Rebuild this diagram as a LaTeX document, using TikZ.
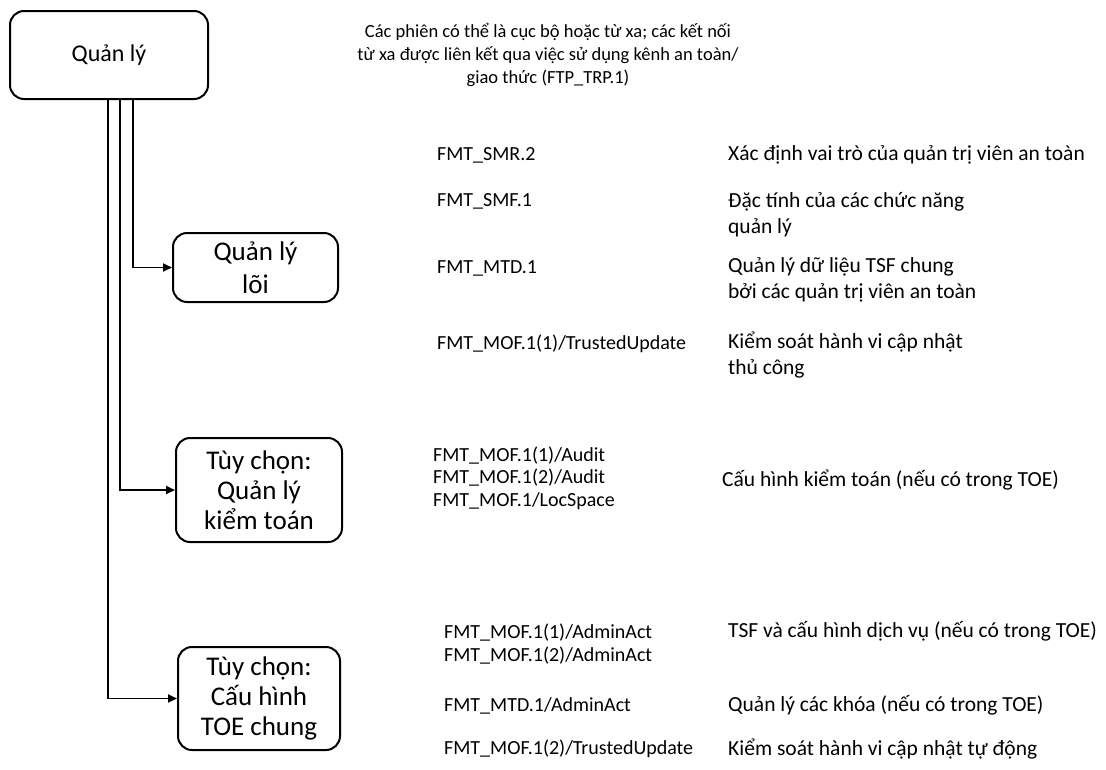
\documentclass[tikz,border=0pt]{standalone}
\usepackage{fontspec}
\setmainfont{Carlito}
\usetikzlibrary{arrows.meta}
\begin{document}
\begin{tikzpicture}[x=1pt,y=-1pt,
 box/.style={draw, rounded corners=14pt, line width=2pt, align=center, inner sep=0pt, font=\fontsize{27}{30}\selectfont},
 conn/.style={line width=1.8pt, -{Triangle[length=9pt,width=8pt]}},
 code/.style={anchor=west, align=left, font=\fontsize{20}{22.5}\selectfont, inner sep=0pt},
 desc/.style={anchor=west, align=left, font=\fontsize{21.5}{26}\selectfont, inner sep=0pt},
 note/.style={align=center, font=\fontsize{18.5}{23}\selectfont, inner sep=0pt}]
\useasboundingbox (0,0) rectangle (1106,769);
\node[box, minimum width=198pt, minimum height=88pt, font=\fontsize{24}{28}\selectfont] (root) at (109,55) {Quản lý};
\node[box, minimum width=165pt, minimum height=69pt, font=\fontsize{27}{33}\selectfont] (core) at (255.5,267.5) {Quản lý\\lõi};
\node[box, minimum width=166pt, minimum height=104pt] (audit) at (259,490) {Tùy chọn:\\Quản lý\\kiểm toán};
\node[box, minimum width=162pt, minimum height=103pt] (toe) at (259,698.5) {Tùy chọn:\\Cấu hình\\TOE chung};

\draw[conn] ([xshift=24pt]root.south) |- (core.west);
\draw[conn] ([xshift=11pt]root.south) |- (audit.west);
\draw[conn] ([xshift=-1pt]root.south) |- (toe.west);

\node[note] (n0) at (548,55) {Các phiên có thể là cục bộ hoặc từ xa; các kết nối\\từ xa được liên kết qua việc sử dụng kênh an toàn/\\giao thức (FTP\_TRP.1)};

\node[code] (c1) at (437,155) {FMT\_SMR.2};
\node[code] (c2) at (437,201) {FMT\_SMF.1};
\node[code] (c3) at (437,268) {FMT\_MTD.1};
\node[code] (c4) at (437,344) {FMT\_MOF.1(1)/TrustedUpdate};
\node[code] (c5) at (433,478) {FMT\_MOF.1(1)/Audit\\FMT\_MOF.1(2)/Audit\\FMT\_MOF.1/LocSpace};
\node[code] (c6) at (444,644) {FMT\_MOF.1(1)/AdminAct\\FMT\_MOF.1(2)/AdminAct};
\node[code] (c7) at (444,706) {FMT\_MTD.1/AdminAct};
\node[code] (c8) at (444,749) {FMT\_MOF.1(2)/TrustedUpdate};

\node[desc] (d1) at (728,155) {Xác định vai trò của quản trị viên an toàn};
\node[desc] (d2) at (728,215) {Đặc tính của các chức năng\\quản lý};
\node[desc] (d3) at (728,280) {Quản lý dữ liệu TSF chung\\bởi các quản trị viên an toàn};
\node[desc] (d4) at (728,355) {Kiểm soát hành vi cập nhật\\thủ công};
\node[desc] (d5) at (722,480) {Cấu hình kiểm toán (nếu có trong TOE)};
\node[desc] (d6) at (728,631) {TSF và cấu hình dịch vụ (nếu có trong TOE)};
\node[desc] (d7) at (728,705) {Quản lý các khóa (nếu có trong TOE)};
\node[desc] (d8) at (728,749) {Kiểm soát hành vi cập nhật tự động};
\end{tikzpicture}
\end{document}
